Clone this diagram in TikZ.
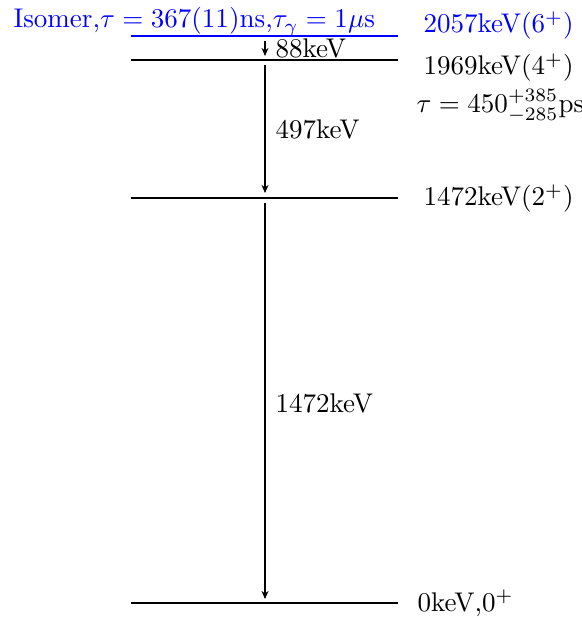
\documentclass[tikz,border=0pt]{standalone}
\usetikzlibrary{arrows.meta}
\begin{document}
\begin{tikzpicture}[x=0.37pt,y=-0.37pt,
  level/.style={line width=0.75pt},
  trans/.style={line width=0.4pt,-{Stealth[length=3pt,width=2.6pt]}},
  lbl/.style={anchor=base west,inner sep=0pt}]
\useasboundingbox (0,0) rectangle (582,618);
% levels
\draw[level,blue] (131,36) coordinate (i0) -- (398,36) coordinate (i1);
\draw[level] (131,60) coordinate (a0) -- (398,60) coordinate (a1);
\draw[level] (131,198) coordinate (b0) -- (398,198) coordinate (b1);
\draw[level] (131,603) coordinate (c0) -- (398,603) coordinate (c1);
% transition end points
\coordinate (t1s) at (265,41);
\coordinate (t1e) at (265,56);
\coordinate (t2s) at (265,65);
\coordinate (t2e) at (265,193);
\coordinate (t3s) at (265,203);
\coordinate (t3e) at (265,599);
\draw[trans] (t1s) -- (t1e);
\draw[trans] (t2s) -- (t2e);
\draw[trans] (t3s) -- (t3e);
% transition labels
\node[lbl] (l88) at (275,58) {88keV};
\node[lbl] (l497) at (275,139) {497keV};
\node[lbl] (l1472) at (275,412) {1472keV};
% level labels
\node[lbl,blue] (iso) at (13,28) {Isomer,$\tau = 367(11)$ns,$\tau_\gamma = 1\mu$s};
\node[lbl,blue] (e2057) at (423,33) {2057keV($6^+$)};
\node[lbl] (e1969) at (423,75) {1969keV($4^+$)};
\node[lbl] (tau) at (416,113) {$\tau = 450^{+385}_{-285}$ps};
\node[lbl] (e1472) at (423,206) {1472keV($2^+$)};
\node[lbl] (e0) at (417,611) {0keV,$0^+$};
\end{tikzpicture}
\end{document}
